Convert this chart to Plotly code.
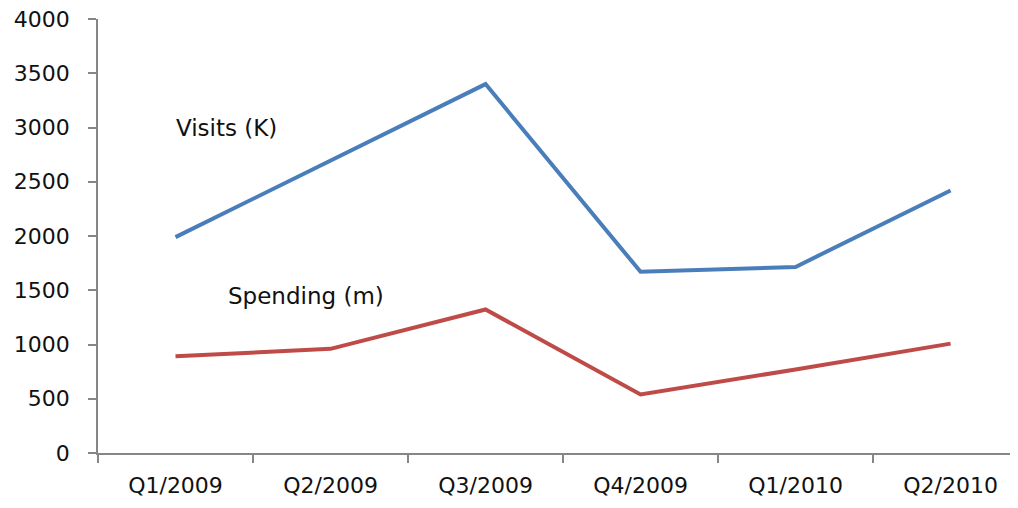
import plotly.graph_objects as go

quarters = ["Q1/2009", "Q2/2009", "Q3/2009", "Q4/2009", "Q1/2010", "Q2/2010"]
visits = [1990, 2700, 3400, 1670, 1715, 2420]
spending = [892, 960, 1323, 539, 770, 1008]
y_ticks = [0, 500, 1000, 1500, 2000, 2500, 3000, 3500, 4000]

fig = go.Figure()
fig.add_trace(go.Scatter(x=quarters, y=visits, mode="lines",
                         line=dict(color="#4A7EBB", width=4), showlegend=False))
fig.add_trace(go.Scatter(x=quarters, y=spending, mode="lines",
                         line=dict(color="#BE4B48", width=4), showlegend=False))

fig.add_annotation(x=0, y=3000, text="Visits (K)", showarrow=False,
                   xanchor="left", yanchor="middle", xshift=-2,
                   font=dict(family="DejaVu Sans", size=23, color="#111111"))
fig.add_annotation(x=0, y=1450, text="Spending (m)", showarrow=False,
                   xanchor="left", yanchor="middle", xshift=50,
                   font=dict(family="DejaVu Sans", size=23, color="#111111"))

axis_color = "#868686"
fig.update_layout(
    width=1018, height=508,
    margin=dict(l=90, r=8, t=11, b=63, autoexpand=False),
    paper_bgcolor="white", plot_bgcolor="white",
    font=dict(family="DejaVu Sans", size=21, color="#111111"),
    xaxis=dict(type="category", range=[-0.5, 5.435], automargin=False,
               showline=True, linecolor=axis_color, linewidth=1.5,
               ticks="outside", tickson="boundaries", ticklen=8, tickcolor=axis_color,
               tickwidth=1.5, showgrid=False, zeroline=False,
               tickfont=dict(size=22), ticklabelstandoff=12,
               ticklabeloverflow="allow"),
    yaxis=dict(range=[0, 4000], tickvals=y_ticks, automargin=False,
               showline=True, linecolor=axis_color, linewidth=1.5,
               ticks="outside", ticklen=8, tickcolor=axis_color, tickwidth=1.5,
               showgrid=False, zeroline=False,
               tickfont=dict(size=22), ticklabelstandoff=14,
               ticklabeloverflow="allow"),
)

fig.write_html("out.html")
